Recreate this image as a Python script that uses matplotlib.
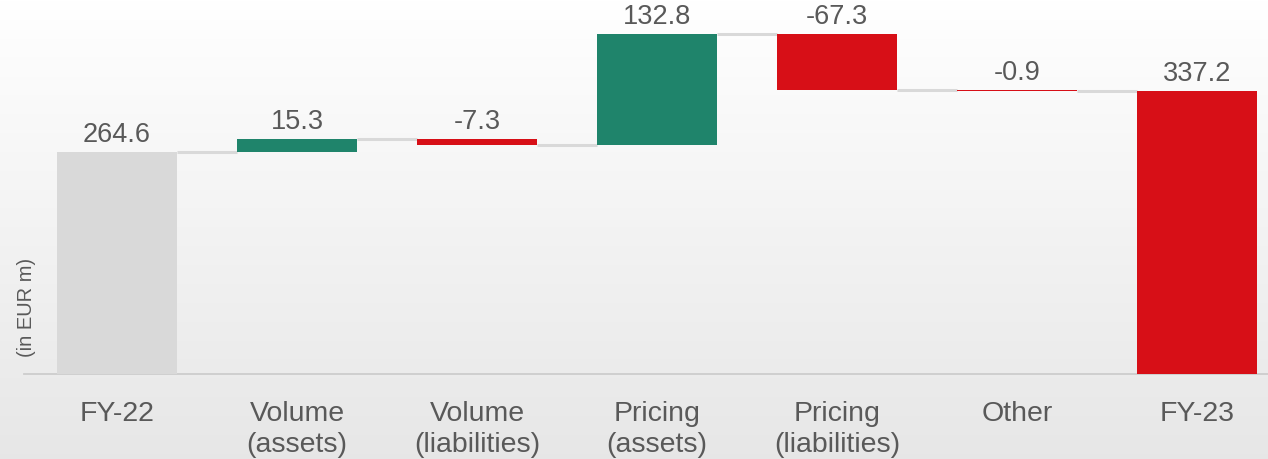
import numpy as np
from matplotlib import pyplot as plt

plt.rcParams["font.family"] = ["Liberation Sans", "DejaVu Sans"]

categories = ["FY-22", "Volume\n(assets)", "Volume\n(liabilities)", "Pricing\n(assets)",
              "Pricing\n(liabilities)", "Other", "FY-23"]
values = [264.6, 15.3, -7.3, 132.8, -67.3, -0.9, 337.2]
is_total = [True, False, False, False, False, False, True]
labels = ["264.6", "15.3", "-7.3", "132.8", "-67.3", "-0.9", "337.2"]

green = "#1f846b"
red = "#d70f17"
grey = "#d9d9d9"
text_col = "#595959"

fig = plt.figure(figsize=(12.68, 4.59), dpi=100)

# background gradient, white at top to light grey at bottom
bg = fig.add_axes([0, 0, 1, 1], zorder=0)
grad = np.linspace(1.0, 0.0, 256).reshape(-1, 1)
bg.imshow(np.dstack([0.905 + 0.095 * grad] * 3), aspect="auto", extent=[0, 1, 0, 1])
bg.axis("off")

ax = fig.add_axes([0, 0, 1, 1], zorder=1)
ax.patch.set_visible(False)
ax.set_xlim(-0.65, 6.394)
ax.set_ylim(-101.3, 445.8)
ax.axis("off")

width = 0.667
x = np.arange(len(values))
level = 0.0
bottoms, heights, colors, tops = [], [], [], []
for v, tot in zip(values, is_total):
	if tot:
		bottoms.append(0)
		heights.append(v)
		colors.append(grey if v == values[0] else red)
		level = v
	else:
		bottoms.append(level if v >= 0 else level + v)
		heights.append(abs(v))
		colors.append(green if v >= 0 else red)
		level = level + v
	tops.append(level)

ax.bar(x, heights, width=width, bottom=bottoms, color=colors, zorder=3)

# connectors between bars
for i in range(len(values) - 1):
	ax.plot([x[i] + width / 2, x[i + 1] - width / 2], [tops[i], tops[i]],
	        color=grey, lw=2.2, zorder=2, solid_capstyle="butt")

# baseline
ax.plot([-0.517, 6.394], [0, 0], color="#cdcdcd", lw=1.3, zorder=2)

for xi, b, h, lab in zip(x, bottoms, heights, labels):
	ax.annotate(lab, (xi, b + h), xytext=(0, 3), textcoords="offset points",
	            ha="center", va="bottom", fontsize=19.5, color=text_col, zorder=4)

for xi, cat in zip(x, categories):
	ax.text(xi, -32.0, cat, ha="center", va="top", fontsize=20.5, color=text_col,
	        linespacing=1.27, zorder=4)

fig.text(27 / 1268, 1 - 307 / 459, "(in EUR m)", rotation=90, ha="center", va="center",
         fontsize=14.5, color=text_col, zorder=5)

fig.savefig("out.png", dpi=100)
